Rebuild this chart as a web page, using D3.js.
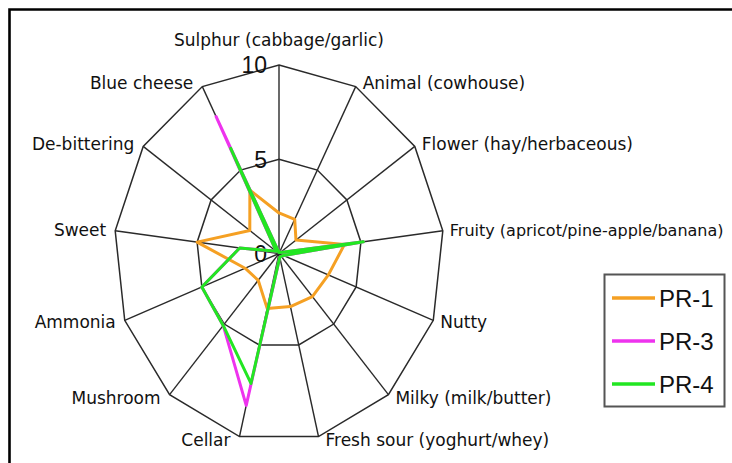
<!DOCTYPE html>
<html>
<head>
<meta charset="utf-8">
<script src="https://cdn.jsdelivr.net/npm/d3@7"></script>
<style>
  html, body { margin: 0; padding: 0; background: #fff; }
  svg { display: block; }
</style>
</head>
<body>
<script>
const categories = ["Sulphur (cabbage/garlic)", "Animal (cowhouse)", "Flower (hay/herbaceous)",
  "Fruity (apricot/pine-apple/banana)", "Nutty", "Milky (milk/butter)", "Fresh sour (yoghurt/whey)",
  "Cellar", "Mushroom", "Ammonia", "Sweet", "De-bittering", "Blue cheese"];
const seriesNames = ["PR-1", "PR-3", "PR-4"];
const pr1 = [2.15, 2.05, 1.25, 4.0, 3.2, 3.05, 2.9, 3.0, 1.9, 2.2, 5.0, 2.15, 3.8];
const pr3 = [0.05, 0.1, 0.1, 5.15, 0.3, 0.2, 0.2, 8.3, 5.1, 5.0, 2.4, 0.2, 8.2];
const pr4 = [0.05, 0.1, 0.1, 5.15, 0.3, 0.2, 0.2, 7.1, 5.1, 5.0, 2.4, 0.2, 6.3];
const seriesColors = ["#f5a023", "#ee33ee", "#22e622"];
const tickValues = [0, 5, 10];
const tickLabels = ["0", "5", "10"];

const W = 732, H = 463;
const cx = 279, cy = 253.5;
const svg = d3.select("body").append("svg").attr("width", W).attr("height", H);
svg.append("rect").attr("width", W).attr("height", H).attr("fill", "#fff");

// frame (top and left edges)
svg.append("path").attr("d", `M9.5,${H} V9.5 H${W}`).attr("fill", "none")
  .attr("stroke", "#000").attr("stroke-width", 2.6);

const rX = d3.scaleLinear().domain([0, 10]).range([0, 165]);
const rY = d3.scaleLinear().domain([0, 10]).range([0, 188.5]);
const angle = d3.scaleLinear().domain([0, categories.length]).range([0, 2 * Math.PI]);
const px = (i, v) => cx + rX(v) * Math.sin(angle(i));
const py = (i, v) => cy - rY(v) * Math.cos(angle(i));

const g = svg.append("g");
// rings
[5, 10].forEach(t => {
  g.append("path")
    .attr("d", d3.line().curve(d3.curveLinearClosed)(categories.map((c, i) => [px(i, t), py(i, t)])))
    .attr("fill", "none").attr("stroke", "#2a2a2a").attr("stroke-width", 1.5);
});
// spokes
g.selectAll("line.spoke").data(categories).join("line")
  .attr("x1", cx).attr("y1", cy)
  .attr("x2", (d, i) => px(i, 10)).attr("y2", (d, i) => py(i, 10))
  .attr("stroke", "#2a2a2a").attr("stroke-width", 1.4);

// tick labels
g.selectAll("text.tick").data(tickValues).join("text")
  .attr("x", cx - 12).attr("y", d => cy - rY(d)).attr("dy", "0.36em")
  .attr("text-anchor", "end")
  .attr("font-family", "Liberation Sans, Arial, sans-serif").attr("font-size", 23)
  .attr("fill", "#111")
  .text((d, i) => tickLabels[i]);

// category labels
g.selectAll("text.cat").data(categories).join("text")
  .each(function (d, i) {
    const s = Math.sin(angle(i)), c = Math.cos(angle(i));
    const vx = px(i, 10), vy = py(i, 10);
    const t = d3.select(this);
    if (Math.abs(s) < 0.05) {
      t.attr("x", vx).attr("y", vy - 19.5).attr("text-anchor", "middle");
    } else if (s > 0) {
      t.attr("x", vx + 7).attr("y", vy - 4 * c + 6).attr("text-anchor", "start");
    } else {
      t.attr("x", vx - 9).attr("y", vy - 4 * c + 6).attr("text-anchor", "end");
    }
  })
  .attr("font-family", "DejaVu Sans, sans-serif")
  .attr("font-size", d => d.length > 30 ? 16 : 17)
  .attr("fill", "#111")
  .text(d => d);

// series
const allSeries = [pr1, pr3, pr4];
const line = d3.line().curve(d3.curveLinearClosed);
allSeries.forEach((vals, k) => {
  g.append("path")
    .attr("d", line(vals.map((v, i) => [px(i, v), py(i, v)])))
    .attr("fill", "none").attr("stroke", seriesColors[k])
    .attr("stroke-width", 3).attr("stroke-linejoin", "round");
});

// legend
const leg = svg.append("g");
leg.append("rect").attr("x", 604.5).attr("y", 274.5).attr("width", 120).attr("height", 132)
  .attr("fill", "#fff").attr("stroke", "#555").attr("stroke-width", 2);
const legY = d3.scalePoint().domain(seriesNames).range([298, 384]);
seriesNames.forEach((n, k) => {
  leg.append("line").attr("x1", 612).attr("x2", 655)
    .attr("y1", legY(n)).attr("y2", legY(n))
    .attr("stroke", seriesColors[k]).attr("stroke-width", 3.5);
  leg.append("text").attr("x", 659).attr("y", legY(n)).attr("dy", "0.36em")
    .attr("font-family", "Liberation Sans, Arial, sans-serif").attr("font-size", 24)
    .attr("fill", "#111").text(n);
});
</script>
</body>
</html>
